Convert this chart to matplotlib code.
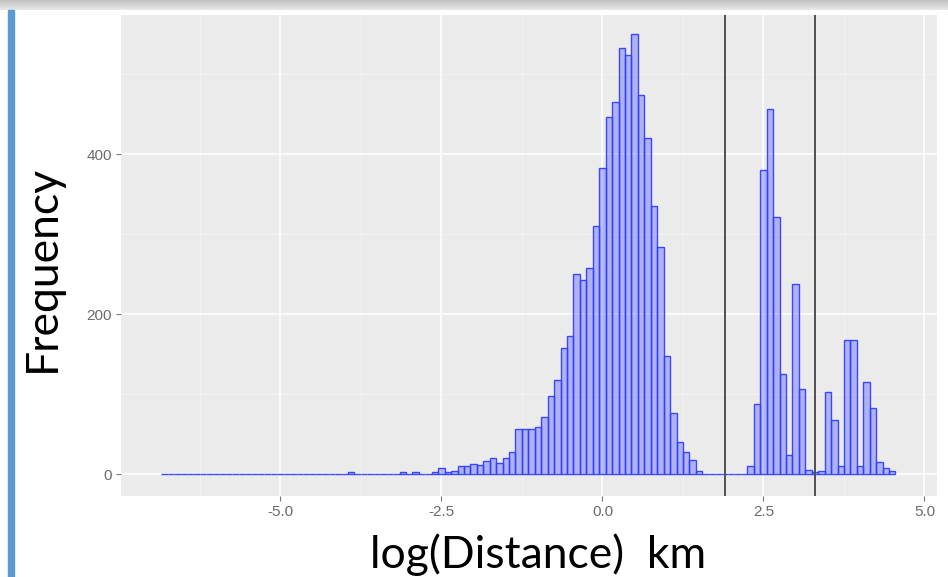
import numpy as np
import matplotlib
matplotlib.use("Agg")
import matplotlib.pyplot as plt
from matplotlib.patches import Rectangle

# ---------------- Data (bin centre -> count, binwidth 0.1) ----------------
bin_centers = [
    -3.9, -3.1, -2.9, -2.6, -2.5, -2.4, -2.3, -2.2, -2.1,
    -2.0, -1.9, -1.8, -1.7, -1.6, -1.5, -1.4, -1.3, -1.2, -1.1,
    -1.0, -0.9, -0.8, -0.7, -0.6, -0.5, -0.4, -0.3, -0.2, -0.1,
    0.0, 0.1, 0.2, 0.3, 0.4, 0.5, 0.6, 0.7, 0.8, 0.9,
    1.0, 1.1, 1.2, 1.3, 1.4, 1.5,
    2.3, 2.4, 2.5, 2.6, 2.7, 2.8, 2.9, 3.0, 3.1, 3.2,
    3.3, 3.4, 3.5, 3.6, 3.7, 3.8, 3.9, 4.0, 4.1, 4.2,
    4.3, 4.4, 4.5,
]
counts = [
    3, 3, 3, 2, 7, 3, 4, 10, 10,
    13, 11, 16, 20, 14, 20, 27, 56, 56, 56,
    59, 71, 97, 117, 157, 172, 250, 242, 257, 310,
    383, 446, 465, 533, 524, 550, 474, 420, 335, 284,
    147, 76, 40, 27, 17, 4,
    10, 88, 380, 457, 322, 125, 24, 237, 106, 5,
    3, 4, 103, 67, 10, 167, 167, 10, 115, 82,
    15, 7, 4,
]
cutoffs = [1.9, 3.3]
x_ticks = [-5.0, -2.5, 0.0, 2.5, 5.0]
y_ticks = [0, 200, 400]

binwidth = 0.1
edges = np.round(np.arange(-6.85, 4.56, binwidth), 2)

# ---------------- Figure ----------------
W, H = 948, 577
fig = plt.figure(figsize=(W / 100, H / 100), dpi=100)
fig.patch.set_facecolor("white")

# slide decorations: grey top band, blue left strip
band = fig.add_axes([0, 1 - 10 / H, 1, 10 / H])
band.imshow(np.linspace(0.76, 0.90, 10).reshape(-1, 1), aspect="auto",
            cmap="gray", vmin=0, vmax=1)
band.axis("off")
fig.patches.append(Rectangle((8 / W, 0), 6 / W, 1 - 10 / H,
                             transform=fig.transFigure,
                             color="#5b9bd5", zorder=5))

ax = fig.add_axes([120.7 / W, 1 - 496 / H, (936.7 - 120.7) / W, (496 - 15) / H])
ax.set_facecolor("#EBEBEB")
for s in ax.spines.values():
    s.set_visible(False)

ax.hist(bin_centers, bins=edges, weights=counts,
        facecolor=(0.05, 0.1, 1.0, 0.27), edgecolor=(0.2, 0.25, 1.0, 0.95),
        linewidth=1.0, zorder=3)

for c in cutoffs:
    ax.axvline(c, color="#505050", linewidth=1.4, zorder=4)

ax.set_xlim(-7.48, 5.19)
ax.set_ylim(-27.5, 574)
ax.set_xticks(x_ticks)
ax.set_xticklabels([f"{v:.1f}" for v in x_ticks])
ax.set_yticks(y_ticks)
ax.set_xticks([-6.25, -3.75, -1.25, 1.25, 3.75], minor=True)
ax.set_yticks([100, 300, 500], minor=True)
ax.grid(which="major", color="white", linewidth=1.1, zorder=0)
ax.grid(which="minor", color="#f5f5f5", linewidth=0.55, zorder=0)
ax.set_axisbelow(True)
ax.tick_params(which="major", length=3.5, width=0.8, color="#777777",
               labelcolor="#6a6a6a", labelsize=11, pad=3)
ax.tick_params(which="minor", length=0)
for lab in ax.get_xticklabels() + ax.get_yticklabels():
    lab.set_family("Liberation Sans")

# big slide-style axis titles
fig.text(538 / W, 9 / H, "log(Distance)  km", family="Lato", fontsize=32,
         ha="center", va="baseline", color="black")
fig.text(55 / W, 1 - 268 / H, "Frequency", family="Lato", fontsize=32,
         rotation=90, rotation_mode="anchor", ha="center", va="baseline",
         color="black")

fig.savefig("out.png", dpi=100)
